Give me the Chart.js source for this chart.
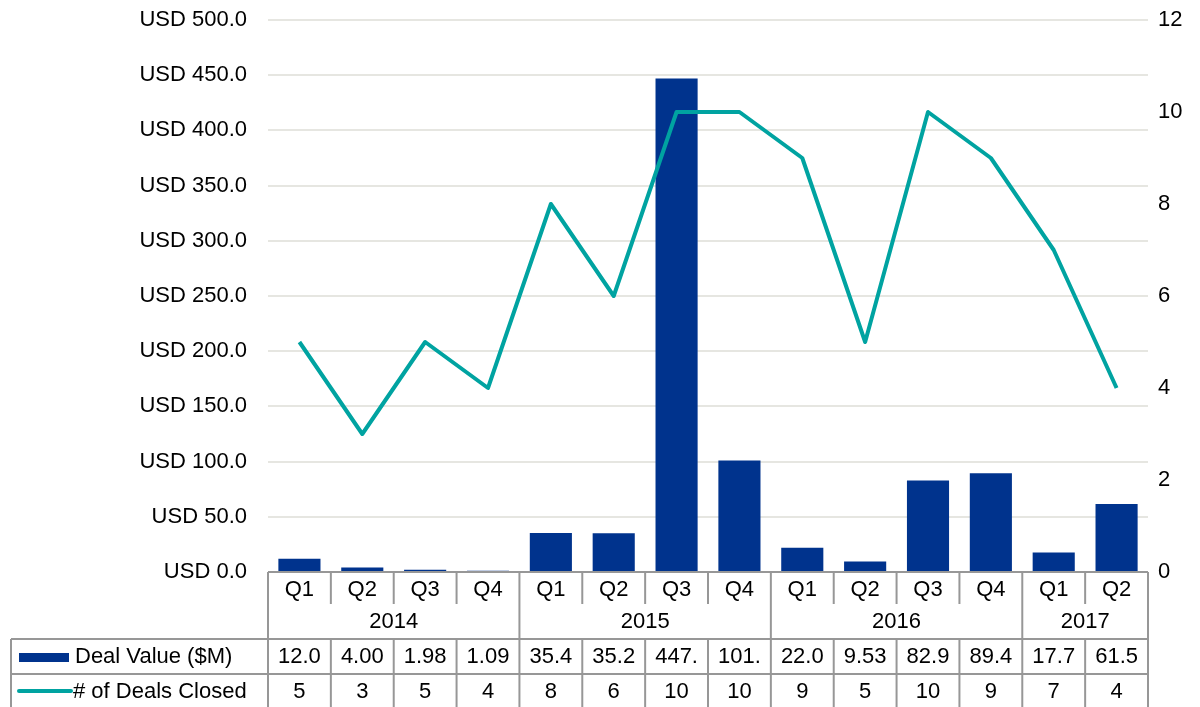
<!DOCTYPE html>
<html>
<head>
<meta charset="utf-8">
<script src="https://cdn.jsdelivr.net/npm/chart.js@4"></script>
<style>
  body { margin: 0; background: #fff; }
  #chart { display: block; }
</style>
</head>
<body>
<canvas id="chart" width="1200" height="707"></canvas>
<script>
const quarters = ['Q1', 'Q2', 'Q3', 'Q4', 'Q1', 'Q2', 'Q3', 'Q4', 'Q1', 'Q2', 'Q3', 'Q4', 'Q1', 'Q2']
const years = ['2014', '2015', '2016', '2017']
const yearSpans = [4, 4, 4, 2]

const dealValue = [12.0, 4.00, 1.98, 1.09, 35.4, 35.2, 447.0, 101.0, 22.0, 9.53, 82.9, 89.4, 17.7, 61.5]
const dealValueLabels = ['12.0', '4.00', '1.98', '1.09', '35.4', '35.2', '447.', '101.', '22.0', '9.53', '82.9', '89.4', '17.7', '61.5']
const dealsClosed = [5, 3, 5, 4, 8, 6, 10, 10, 9, 5, 10, 9, 7, 4]

const BLUE = '#00338D'
const TEAL = '#00A3A1'
const GRID = '#E6E6E1'
const BORDER = '#979797'
const FONT = '"Liberation Sans", Arial, sans-serif'
const FONT_SIZE = 22

// draws the category axis as a data table with the legend in it
const tablePlugin = {
    id: 'dataTable',
    afterDraw(chart) {
        const ctx = chart.ctx
        const area = chart.chartArea
        const x = chart.scales.x
        const n = quarters.length
        const step = x.getPixelForValue(1) - x.getPixelForValue(0)
        const edge = i => x.getPixelForValue(0) - step / 2 + i * step

        const top = area.bottom
        const tickEnd = top + 32
        const row1 = top + 67
        const row2 = top + 102
        const bottom = chart.height
        const tableLeft = 11

        ctx.save()
        ctx.strokeStyle = BORDER
        ctx.lineWidth = 2

        const line = (x1, y1, x2, y2) => {
            ctx.beginPath()
            ctx.moveTo(x1, y1)
            ctx.lineTo(x2, y2)
            ctx.stroke()
        }

        line(edge(0), top, edge(n), top)
        line(tableLeft, row1, edge(n), row1)
        line(tableLeft, row2, edge(n), row2)
        line(tableLeft, row1, tableLeft, bottom)

        const yearEdges = [0]
        yearSpans.forEach(s => yearEdges.push(yearEdges[yearEdges.length - 1] + s))

        for (let i = 0; i <= n; i++) {
            const px = edge(i)
            if (yearEdges.includes(i)) {
                line(px, top, px, bottom)
            } else {
                line(px, top, px, tickEnd)
                line(px, row1, px, bottom)
            }
        }

        ctx.fillStyle = '#000'
        ctx.font = FONT_SIZE + 'px ' + FONT
        ctx.textAlign = 'center'
        ctx.textBaseline = 'middle'

        quarters.forEach((q, i) => {
            const cx = x.getPixelForValue(i)
            ctx.fillText(q, cx, top + 18)
            ctx.fillText(dealValueLabels[i], cx, row1 + 18)
            ctx.fillText(String(dealsClosed[i]), cx, row2 + 18)
        })

        years.forEach((y, i) => {
            const cx = (edge(yearEdges[i]) + edge(yearEdges[i + 1])) / 2
            ctx.fillText(y, cx, top + 50)
        })

        // legend keys
        ctx.fillStyle = BLUE
        ctx.fillRect(19, row1 + 14, 50, 9)
        ctx.strokeStyle = TEAL
        ctx.lineWidth = 4
        ctx.lineCap = 'round'
        line(19, row2 + 17, 71, row2 + 17)

        ctx.fillStyle = '#000'
        ctx.textAlign = 'left'
        ctx.fillText('Deal Value ($M)', 75, row1 + 18)
        ctx.fillText('# of Deals Closed', 73, row2 + 18)
        ctx.restore()
    }
}

const noPad = scale => {
    scale.paddingTop = 0
    scale.paddingBottom = 0
}

new Chart(document.getElementById('chart'), {
    type: 'bar',
    data: {
        labels: quarters,
        datasets: [
            {
                type: 'line',
                label: '# of Deals Closed',
                data: dealsClosed,
                yAxisID: 'y1',
                borderColor: TEAL,
                borderWidth: 4,
                pointRadius: 0,
                tension: 0,
                borderJoinStyle: 'round',
                order: 0
            },
            {
                label: 'Deal Value ($M)',
                data: dealValue,
                yAxisID: 'y',
                backgroundColor: BLUE,
                categoryPercentage: 1,
                barPercentage: 0.67,
                order: 1
            }
        ]
    },
    options: {
        responsive: false,
        animation: false,
        layout: { padding: { top: 20, left: 0, right: 0, bottom: 0 } },
        plugins: {
            legend: { display: false },
            tooltip: { enabled: false }
        },
        scales: {
            x: {
                offset: true,
                grid: { display: false },
                border: { display: false },
                ticks: { display: false },
                afterFit: scale => { scale.height = 135 }
            },
            y: {
                position: 'left',
                min: 0,
                max: 500,
                ticks: {
                    stepSize: 50,
                    padding: 21,
                    color: '#000',
                    font: { family: FONT, size: FONT_SIZE },
                    callback: v => 'USD ' + v.toFixed(1)
                },
                grid: { color: GRID, lineWidth: 2, drawTicks: false },
                border: { display: false },
                afterFit: scale => {
                    scale.width = 268
                    noPad(scale)
                }
            },
            y1: {
                position: 'right',
                min: 0,
                max: 12,
                ticks: {
                    stepSize: 2,
                    padding: 10,
                    color: '#000',
                    font: { family: FONT, size: FONT_SIZE }
                },
                grid: { display: false, drawTicks: false },
                border: { display: false },
                afterFit: scale => {
                    scale.width = 52
                    noPad(scale)
                }
            }
        }
    },
    plugins: [tablePlugin]
})
</script>
</body>
</html>
